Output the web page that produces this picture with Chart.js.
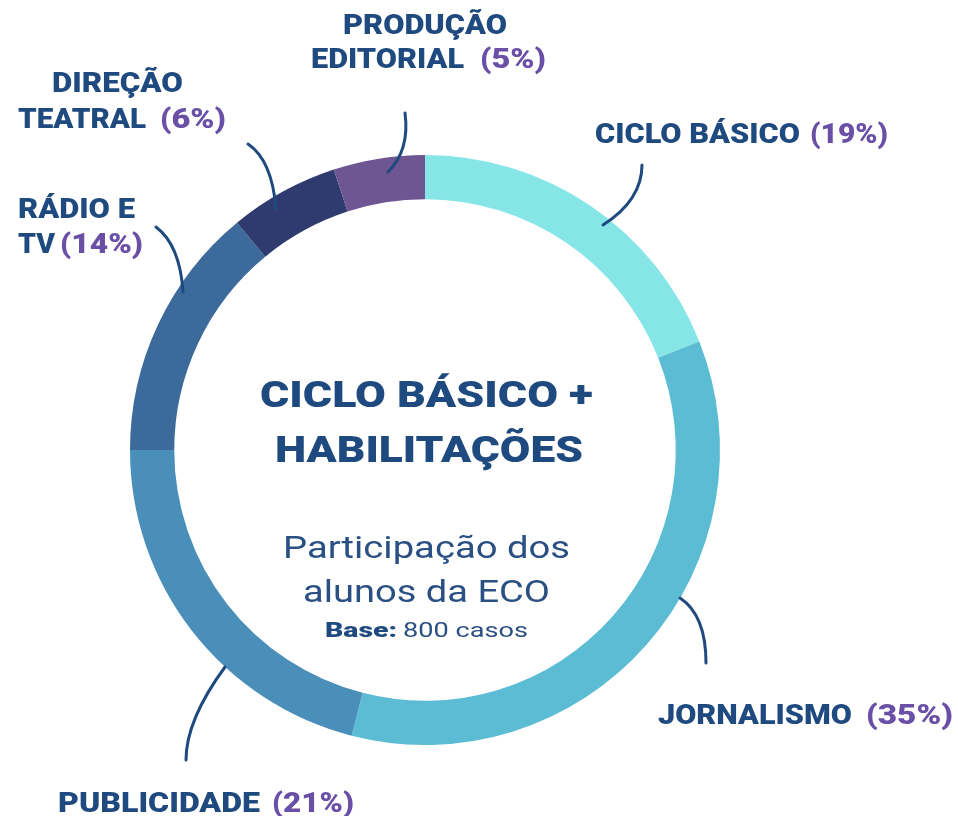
<!DOCTYPE html>
<html>
<head>
<meta charset="utf-8">
<script src="https://cdn.jsdelivr.net/npm/chart.js@4/dist/chart.umd.min.js"></script>
<style>
    html, body { margin: 0; padding: 0; background: #ffffff; }
    #wrap { width: 958px; height: 816px; }
</style>
</head>
<body>
<div id="wrap"><canvas id="ecoChart" width="958" height="816"></canvas></div>
<script>
// categorias no sentido horário, a partir do topo
const categorias = ['Ciclo Básico', 'Jornalismo', 'Publicidade', 'Rádio e TV', 'Direção Teatral', 'Produção Editorial'];
const participacao = [19, 35, 21, 14, 6, 5];
const cores = ['#86e6e7', '#5bbcd4', '#4a8fba', '#3c6a9b', '#2f3b6f', '#6d5691'];

const AZUL = '#1f4a7f';
const ROXO = '#6a4fa7';
const FONTE = 'Roboto, "Noto Sans", sans-serif';

// desenha texto esticando na horizontal até a largura desejada
function drawFit(ctx, text, x, y, width, font, color) {
    ctx.save();
    ctx.font = font;
    ctx.fillStyle = color;
    ctx.textAlign = 'left';
    ctx.textBaseline = 'alphabetic';
    const natural = ctx.measureText(text).width;
    const sx = width / natural;
    ctx.translate(x, y);
    ctx.scale(sx, 1);
    ctx.fillText(text, 0, 0);
    ctx.restore();
}

function pct(i) {
    return '(' + participacao[i] + '%)';
}

function leader(ctx, x0, y0, cx, cy, x1, y1) {
    ctx.beginPath();
    ctx.moveTo(x0, y0);
    ctx.quadraticCurveTo(cx, cy, x1, y1);
    ctx.strokeStyle = AZUL;
    ctx.lineWidth = 3;
    ctx.lineCap = 'round';
    ctx.stroke();
}

const labelsPlugin = {
    id: 'labelsPlugin',
    afterDraw(chart) {
        const ctx = chart.ctx;
        ctx.save();
        const b = '900 28px ' + FONTE;

        // linhas de chamada
        leader(ctx, 642, 165, 642, 200, 603, 225);
        leader(ctx, 405, 113, 410, 150, 388, 172);
        leader(ctx, 248, 144, 272, 160, 276, 209);
        leader(ctx, 156, 227, 180, 245, 183, 292);
        leader(ctx, 680, 598, 706, 615, 706, 663);
        leader(ctx, 225, 667, 186, 720, 186, 760);

        // rótulos
        drawFit(ctx, 'CICLO BÁSICO', 595, 143, 205, b, AZUL);
        drawFit(ctx, pct(0), 810, 143, 78, b, ROXO);

        drawFit(ctx, 'JORNALISMO', 658, 724, 194, b, AZUL);
        drawFit(ctx, pct(1), 866, 724, 87, b, ROXO);

        drawFit(ctx, 'PUBLICIDADE', 58, 812, 202, b, AZUL);
        drawFit(ctx, pct(2), 272, 812, 82, b, ROXO);

        drawFit(ctx, 'RÁDIO E', 18, 218, 117, b, AZUL);
        drawFit(ctx, 'TV', 18, 253, 37, b, AZUL);
        drawFit(ctx, pct(3), 60, 253, 83, b, ROXO);

        drawFit(ctx, 'DIREÇÃO', 52, 92, 131, b, AZUL);
        drawFit(ctx, 'TEATRAL', 18, 128, 128, b, AZUL);
        drawFit(ctx, pct(4), 160, 128, 66, b, ROXO);

        drawFit(ctx, 'PRODUÇÃO', 343, 34, 164, b, AZUL);
        drawFit(ctx, 'EDITORIAL', 311, 68, 153, b, AZUL);
        drawFit(ctx, pct(5), 480, 68, 66, b, ROXO);

        // texto central
        const t = '900 36px ' + FONTE;
        drawFit(ctx, 'CICLO BÁSICO +', 260, 407, 333, t, AZUL);
        drawFit(ctx, 'HABILITAÇÕES', 275, 462, 308, t, AZUL);
        const r = '32px ' + FONTE;
        drawFit(ctx, 'Participação dos', 283, 558, 287, r, '#2a5083');
        drawFit(ctx, 'alunos da ECO', 303, 602, 247, r, '#2a5083');
        drawFit(ctx, 'Base:', 325, 637, 72, '900 21px ' + FONTE, AZUL);
        drawFit(ctx, '800 casos', 403, 637, 125, '21px ' + FONTE, '#2a5083');

        ctx.restore();
    }
};

const ctx = document.getElementById('ecoChart').getContext('2d');
const ecoChart = new Chart(ctx, {
    type: 'doughnut',
    data: {
        labels: categorias,
        datasets: [{
            data: participacao,
            backgroundColor: cores,
            borderWidth: 0
        }]
    },
    options: {
        responsive: false,
        animation: false,
        cutout: '85%',
        layout: {
            padding: { left: 130, right: 238, top: 155, bottom: 71 }
        },
        plugins: {
            legend: { display: false },
            tooltip: { enabled: false }
        }
    },
    plugins: [labelsPlugin]
});
</script>
</body>
</html>
